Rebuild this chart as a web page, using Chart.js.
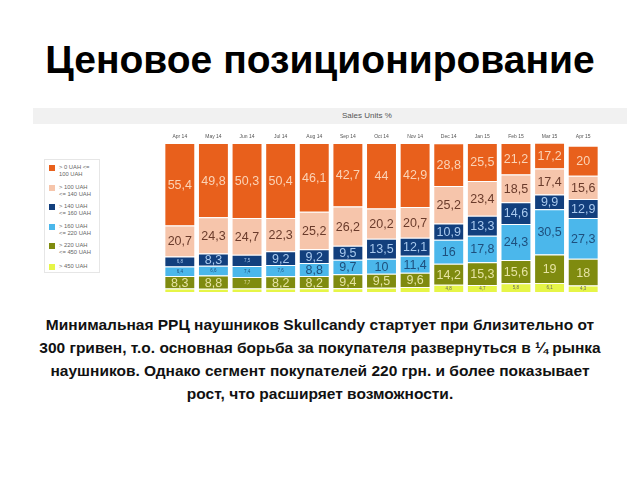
<!DOCTYPE html>
<html>
<head>
<meta charset="utf-8">
<script src="https://cdn.jsdelivr.net/npm/chart.js@4/dist/chart.umd.min.js"></script>
<style>
    html, body { margin: 0; padding: 0; background: #fff; }
    body { width: 640px; height: 480px; position: relative; overflow: hidden; font-family: "Liberation Sans", Arial, sans-serif; }
    #title { position: absolute; left: 0; top: 38px; width: 640px; text-align: center; font-size: 39px; font-weight: bold; color: #000; }
    #band { position: absolute; left: 33px; top: 108px; width: 594px; height: 16px; background: #f1f1f1; }
    #band span { position: absolute; left: 309px; top: 3px; font-size: 8px; color: #555; }
    #legend { position: absolute; left: 44px; top: 159px; width: 56px; height: 114px; border: 1px solid #e6e6e6; box-sizing: border-box; }
    .lg { position: absolute; left: 4px; font-size: 5.8px; line-height: 7px; color: #666; }
    .lg i { position: absolute; left: 0; top: 1px; width: 6px; height: 6px; }
    .lg b { position: absolute; left: 10px; top: 0; white-space: nowrap; font-weight: normal; }
    #wrap { position: absolute; left: 30px; top: 131px; width: 600px; height: 167px; }
    #note { position: absolute; left: 0; top: 313px; width: 640px; text-align: center; font-size: 15.5px; line-height: 23px; font-weight: bold; color: #111; }
</style>
</head>
<body>
<div id="title">Ценовое позиционирование</div>
<div id="band"><span>Sales Units %</span></div>
<div id="legend"></div>
<div id="wrap"><canvas id="chart"></canvas></div>
<div id="note">Минимальная РРЦ наушников Skullcandy стартует при близительно от<br>300 гривен, т.о. основная борьба за покупателя развернуться в ¼ рынка<br>наушников. Однако сегмент покупателей 220 грн. и более показывает<br>рост, что расширяет возможности.</div>

<script>
// Месяцы
var months = ['Apr 14', 'May 14', 'Jun 14', 'Jul 14', 'Aug 14', 'Sep 14', 'Oct 14', 'Nov 14', 'Dec 14', 'Jan 15', 'Feb 15', 'Mar 15', 'Apr 15'];

// Доли продаж, % (сегменты по цене)
var upTo100   = [55.4, 49.8, 50.3, 50.4, 46.1, 42.7, 44, 42.9, 28.8, 25.5, 21.2, 17.2, 20];
var upTo140   = [20.7, 24.3, 24.7, 22.3, 25.2, 26.2, 20.2, 20.7, 25.2, 23.4, 18.5, 17.4, 15.6];
var upTo160   = [6.8, 8.3, 7.5, 9.2, 9.2, 9.5, 13.5, 12.1, 10.9, 13.3, 14.6, 9.9, 12.9];
var upTo220   = [6.4, 6.6, 7.4, 7.6, 8.8, 9.7, 10, 11.4, 16, 17.8, 24.3, 30.5, 27.3];
var upTo450   = [8.3, 8.8, 7.7, 8.2, 8.2, 9.4, 9.5, 9.6, 14.2, 15.3, 15.6, 19, 18];
var over450   = [2.4, 2.2, 2.4, 2.3, 2.5, 2.5, 2.8, 3.3, 4.8, 4.7, 5.8, 6.1, 4.3];

var segLabels = ['> 0 UAH <=\n100 UAH', '> 100 UAH\n<= 140 UAH', '> 140 UAH\n<= 160 UAH', '> 160 UAH\n<= 220 UAH', '> 220 UAH\n<= 450 UAH', '> 450 UAH'];
var segColors = ['#e8601c', '#f6c5ab', '#123f7d', '#4bb7eb', '#7f8b0f', '#e6f547'];
var textColors = ['#fbd3b6', '#6a3b2b', '#a9c9ee', '#1e4f7d', '#e6e3a2', '#666'];

// сверху вниз в легенде, снизу вверх в стопке
var segData = [upTo100, upTo140, upTo160, upTo220, upTo450, over450];

// легенда
var legendEl = document.getElementById('legend');
var legendTops = [4, 24, 43, 63, 82, 103];
segLabels.forEach(function(lbl, i) {
    var d = document.createElement('div');
    d.className = 'lg';
    d.style.top = legendTops[i] + 'px';
    d.innerHTML = '<i style="background:' + segColors[i] + '"></i><b>' + lbl.replace(/</g, '&lt;').replace(/>/g, '&gt;').replace('\n', '<br>') + '</b>';
    legendEl.appendChild(d);
});

var datasets = [];
for (var k = segData.length - 1; k >= 0; k--) {
    datasets.push({
        label: segLabels[k],
        data: segData[k],
        backgroundColor: segColors[k],
        borderColor: '#ffffff',
        borderWidth: 1,
        textColor: textColors[k]
    });
}

// подписи значений внутри сегментов
var valueLabels = {
    id: 'valueLabels',
    afterDatasetsDraw: function(chart) {
        var ctx = chart.ctx;
        ctx.save();
        ctx.textAlign = 'center';
        ctx.textBaseline = 'middle';
        chart.data.datasets.forEach(function(ds, di) {
            var meta = chart.getDatasetMeta(di);
            meta.data.forEach(function(bar, i) {
                var v = ds.data[i];
                if (v < 4) return; // слишком узкие сегменты без подписи
                var big = v >= 8;
                ctx.font = big ? '12.5px "Liberation Sans", Arial, sans-serif' : '4.5px "Liberation Sans", Arial, sans-serif';
                ctx.fillStyle = ds.textColor;
                var y = (bar.y + bar.base) / 2;
                ctx.fillText(String(v).replace('.', ','), bar.x, y + (big ? 1 : 0));
            });
        });
        ctx.restore();
    }
};

new Chart(document.getElementById('chart'), {
    type: 'bar',
    data: { labels: months, datasets: datasets },
    options: {
        responsive: true,
        maintainAspectRatio: false,
        animation: false,
        layout: { padding: { left: 133, right: 30, top: 0, bottom: 6 } },
        plugins: {
            legend: { display: false },
            tooltip: { enabled: false }
        },
        datasets: { bar: { categoryPercentage: 1, barPercentage: 0.92 } },
        scales: {
            x: {
                stacked: true,
                position: 'top',
                grid: { display: false, drawTicks: false },
                border: { display: false },
                ticks: { color: '#555', font: { size: 5, family: 'Liberation Sans' }, padding: 3, maxRotation: 0 }
            },
            y: {
                stacked: true,
                display: false,
                min: 0,
                max: 100
            }
        }
    },
    plugins: [valueLabels]
});
</script>
</body>
</html>
